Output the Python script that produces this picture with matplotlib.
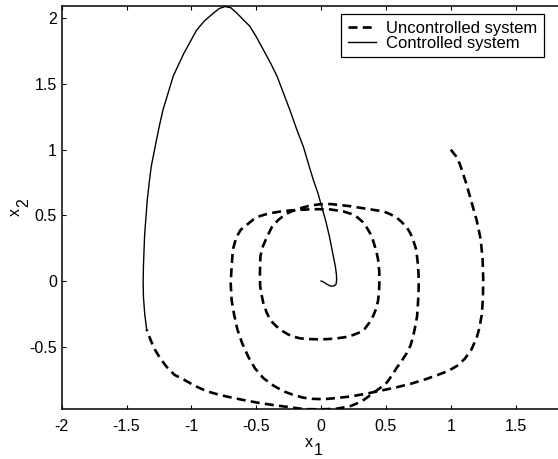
import matplotlib
matplotlib.use("Agg")
import matplotlib.pyplot as plt

plt.rcParams['font.family'] = ['Liberation Sans', 'DejaVu Sans']
plt.rcParams['axes.unicode_minus'] = False

# Uncontrolled system trajectory (x1, x2)
unc_x1 = [1.00, 1.04, 1.07, 1.12, 1.16, 1.20, 1.23, 1.245, 1.25, 1.248, 1.24, 1.22, 1.20,
          1.16, 1.11, 1.05, 0.98, 0.90, 0.80, 0.70, 0.58, 0.46, 0.34, 0.22, 0.10, 0.02,
          -0.07, -0.14, -0.22, -0.29, -0.37, -0.445, -0.51, -0.56, -0.61, -0.645, -0.67,
          -0.69, -0.697, -0.69, -0.68, -0.655, -0.62, -0.57, -0.52, -0.47, -0.40, -0.32,
          -0.25, -0.19, -0.10, -0.03, 0.07, 0.17, 0.235, 0.28, 0.32, 0.35, 0.38, 0.40,
          0.425, 0.44, 0.448, 0.45, 0.447, 0.44, 0.425, 0.40, 0.37, 0.34, 0.30, 0.25,
          0.19, 0.12, 0.04, -0.03, -0.10, -0.16, -0.23, -0.29, -0.345, -0.39, -0.42,
          -0.445, -0.46, -0.47, -0.472, -0.468, -0.455, -0.42, -0.38, -0.33, -0.285,
          -0.24, -0.19, -0.14, -0.08, -0.01, 0.07, 0.15, 0.22, 0.35, 0.48, 0.53, 0.58,
          0.62, 0.66, 0.69, 0.71, 0.73, 0.74, 0.748, 0.752, 0.752, 0.75, 0.745, 0.74,
          0.725, 0.71, 0.69, 0.66, 0.62, 0.58, 0.545, 0.51, 0.455, 0.40, 0.33, 0.27,
          0.22, 0.12, 0.04, -0.03, -0.10, -0.16, -0.29, -0.38, -0.47, -0.58, -0.68,
          -0.78, -0.88, -0.97, -1.06, -1.13, -1.19, -1.24, -1.28, -1.31, -1.33, -1.345]
unc_x2 = [1.00, 0.95, 0.89, 0.74, 0.60, 0.46, 0.32, 0.17, 0.02, -0.12, -0.25, -0.36, -0.43,
          -0.52, -0.59, -0.645, -0.685, -0.715, -0.75, -0.78, -0.81, -0.835, -0.86, -0.88,
          -0.893, -0.90, -0.897, -0.888, -0.865, -0.84, -0.795, -0.74, -0.665, -0.58,
          -0.47, -0.37, -0.26, -0.145, -0.02, 0.11, 0.24, 0.33, 0.39, 0.43, 0.47, 0.495,
          0.515, 0.528, 0.536, 0.54, 0.545, 0.547, 0.545, 0.53, 0.51, 0.485, 0.45, 0.41,
          0.36, 0.31, 0.23, 0.16, 0.08, 0.01, -0.07, -0.145, -0.21, -0.27, -0.32, -0.36,
          -0.39, -0.41, -0.427, -0.437, -0.443, -0.444, -0.442, -0.437, -0.42, -0.386,
          -0.345, -0.30, -0.24, -0.17, -0.10, -0.04, 0.05, 0.185, 0.25, 0.33, 0.41,
          0.465, 0.50, 0.525, 0.545, 0.56, 0.575, 0.584, 0.586, 0.578, 0.57, 0.55, 0.53,
          0.51, 0.485, 0.45, 0.41, 0.36, 0.31, 0.25, 0.185, 0.11, 0.03, -0.05, -0.12,
          -0.20, -0.27, -0.35, -0.42, -0.49, -0.55, -0.61, -0.665, -0.72, -0.77, -0.815,
          -0.855, -0.905, -0.935, -0.955, -0.972, -0.976, -0.977, -0.976, -0.972, -0.955,
          -0.943, -0.93, -0.91, -0.89, -0.868, -0.84, -0.80, -0.75, -0.715, -0.655,
          -0.59, -0.525, -0.46, -0.41, -0.37]

# Controlled system trajectory (x1, x2)
con_x1 = [-1.345, -1.36, -1.37, -1.372, -1.37, -1.365, -1.36, -1.35, -1.34, -1.325, -1.31,
          -1.29, -1.27, -1.245, -1.22, -1.18, -1.14, -1.10, -1.06, -1.01, -0.96, -0.90,
          -0.83, -0.785, -0.74, -0.695, -0.65, -0.60, -0.55, -0.50, -0.445, -0.39, -0.34,
          -0.29, -0.24, -0.19, -0.136, -0.10, -0.06, -0.025, 0.005, 0.035, 0.064, 0.08,
          0.095, 0.11, 0.118, 0.12, 0.115, 0.10, 0.08, 0.06, 0.04, 0.02, 0.0]
con_x2 = [-0.37, -0.25, -0.12, 0.0, 0.11, 0.24, 0.36, 0.49, 0.62, 0.75, 0.87, 0.97, 1.07,
          1.19, 1.30, 1.43, 1.56, 1.645, 1.73, 1.82, 1.91, 1.98, 2.04, 2.075, 2.09, 2.08,
          2.04, 1.99, 1.94, 1.86, 1.76, 1.66, 1.56, 1.43, 1.30, 1.16, 1.02, 0.90, 0.77,
          0.67, 0.566, 0.46, 0.34, 0.26, 0.185, 0.11, 0.05, 0.008, -0.025, -0.037, -0.04,
          -0.033, -0.022, -0.008, 0.0]

xticks = [-2, -1.5, -1, -0.5, 0, 0.5, 1, 1.5]
xticklabels = ['-2', '-1.5', '-1', '-0.5', '0', '0.5', '1', '1.5']
yticks = [-0.5, 0, 0.5, 1, 1.5, 2]
yticklabels = ['-0.5', '0', '0.5', '1', '1.5', '2']
legend_labels = ['Uncontrolled system', 'Controlled system']
xlabel_parts = ['x', '1']
ylabel_parts = ['x', '2']

W, H = 558, 459
fig = plt.figure(figsize=(W / 100, H / 100), dpi=100)
left_px, right_px, top_px, bottom_px = 61.7, 580.5, 6.0, 409.3
ax = fig.add_axes([left_px / W, (H - bottom_px) / H,
                   (right_px - left_px) / W, (bottom_px - top_px) / H])

ax.plot(unc_x1, unc_x2, color='black', lw=1.9, linestyle=(0, (3.4, 2.0)),
        label=legend_labels[0])
ax.plot(con_x1, con_x2, color='black', lw=1.0, label=legend_labels[1])

ax.set_xlim(-2, 2)
ax.set_ylim(-0.977, 2.094)
ax.set_xticks(xticks)
ax.set_xticklabels(xticklabels)
ax.set_yticks(yticks)
ax.set_yticklabels(yticklabels)
ax.tick_params(direction='in', length=3.2, width=0.8, top=True, right=True,
               labelsize=11.5, colors='black')
ax.tick_params(axis='x', pad=7)
ax.tick_params(axis='y', pad=3.5)
for s in ax.spines.values():
    s.set_linewidth(1.1)
    s.set_color('black')


def fx(px):
    return px / W


def fy(py):
    return 1 - py / H


# x-axis label "x1" (subscript drawn at full size, as in the reference)
fig.text(fx(305), fy(447), xlabel_parts[0], fontsize=11.5, ha='left', va='baseline')
fig.text(fx(313.5), fy(455), xlabel_parts[1], fontsize=11.5, ha='left', va='baseline')
# y-axis label "x2" rotated
fig.text(fx(19.5), fy(215.5), ylabel_parts[0], fontsize=11.5, ha='left', va='baseline',
         rotation=90, rotation_mode='anchor')
fig.text(fx(28), fy(207), ylabel_parts[1], fontsize=11.5, ha='left', va='baseline',
         rotation=90, rotation_mode='anchor')

leg = ax.legend(loc='upper right', bbox_to_anchor=(0.930, 0.980), fontsize=12,
                frameon=True, fancybox=False, edgecolor='black', framealpha=1,
                borderpad=0.4, labelspacing=0.0, handlelength=1.7,
                handletextpad=0.6, borderaxespad=0)
leg.get_frame().set_linewidth(0.9)

fig.savefig('out.png', dpi=100)
